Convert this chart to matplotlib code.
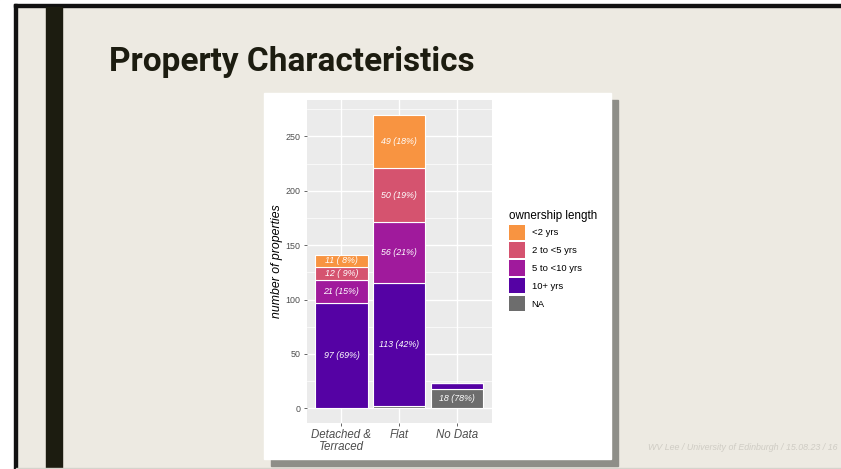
import matplotlib.pyplot as plt
import numpy as np
from matplotlib.patches import Patch, Rectangle

plt.rcParams["font.family"] = ["Liberation Sans", "DejaVu Sans"]

# data
types = ["Detached &\nTerraced", "Flat", "No Data"]
groups = ["<2 yrs", "2 to <5 yrs", "5 to <10 yrs", "10+ yrs", "NA"]
colors = ["#F89441", "#D5536F", "#A01A9C", "#5502A4", "#6D6D6D"]

# stacked bottom -> top: NA, 10+, 5-<10, 2-<5, <2
na_vals = [0, 2, 18]
yrs10_vals = [97, 113, 5]
yrs5_vals = [21, 56, 0]
yrs2_vals = [12, 50, 0]
lt2_vals = [11, 49, 0]

stack = [na_vals, yrs10_vals, yrs5_vals, yrs2_vals, lt2_vals]
stack_cols = [colors[4], colors[3], colors[2], colors[1], colors[0]]

W, H = 841, 469
fig = plt.figure(figsize=(W / 100, H / 100), dpi=100)
fig.patch.set_facecolor("#EDEAE2")

# slide decoration
fig.patches.append(Rectangle((0, 0), 15 / W, 1, transform=fig.transFigure, color="white", zorder=0))
fig.patches.append(Rectangle((0, 1 - 4 / H), 1, 4 / H, transform=fig.transFigure, color="white", zorder=0))
fig.patches.append(Rectangle((14 / W, 0), 2.5 / W, 1 - 4 / H, transform=fig.transFigure, color="#111111", zorder=1))
fig.patches.append(Rectangle((14 / W, 1 - 7 / H), 1 - 14 / W, 3 / H, transform=fig.transFigure, color="#111111", zorder=1))
fig.patches.append(Rectangle((46 / W, 0), 16 / W, 1 - 7 / H, transform=fig.transFigure, color="#1C1C10", zorder=1))
fig.patches.append(Rectangle((16 / W, 0), 1, 1.2 / H, transform=fig.transFigure, color="#D6D3CC", zorder=1))

# chart card with shadow
fig.patches.append(Rectangle((271 / W, (H - 466) / H), 347 / W, 366 / H, transform=fig.transFigure,
                             color="#8E8E88", zorder=1))
fig.patches.append(Rectangle((264 / W, (H - 459) / H), 347 / W, 366 / H, transform=fig.transFigure,
                             color="white", zorder=2))

fig.text(109 / W, 1 - 62 / H, "Property Characteristics", fontsize=24, fontweight="bold",
         family="Roboto", color="#1C1C10", va="center", ha="left")
fig.text(838 / W, 1 - 447 / H, "WV Lee / University of Edinburgh / 15.08.23 / 16", fontsize=6.4,
         style="italic", color="#CFCCC4", ha="right", va="center")

ax = fig.add_axes([306.7 / W, (H - 423) / H, 185.3 / W, 323 / H], zorder=3)
ax.set_facecolor("#EBEBEB")
for s in ax.spines.values():
    s.set_visible(False)

x = np.arange(1, len(types) + 1)
totals = np.sum(stack, axis=0)
bottom = np.zeros(len(types))
for vals, col in zip(stack, stack_cols):
    vals = np.array(vals)
    ax.bar(x, vals, 0.9, bottom=bottom, color=col, edgecolor="white", linewidth=0.8, zorder=3)
    for xi, v, b, t in zip(x, vals, bottom, totals):
        if v >= 10:
            ax.text(xi, b + v / 2, f"{v} ({100 * v / t:2.0f}%)", ha="center", va="center",
                    fontsize=6.4, style="italic", color="white", zorder=4)
    bottom += vals

ax.set_xlim(0.4, 3.6)
ax.set_ylim(-13.5, 283.5)
ax.set_yticks(np.arange(0, 251, 50))
ax.set_yticks(np.arange(25, 276, 50), minor=True)
ax.set_xticks(x)
ax.set_xticklabels(types, fontsize=8.3, style="italic", color="#4D4D4D", linespacing=1.0)
ax.tick_params(axis="y", labelsize=6.4, colors="#4D4D4D", length=2.5, width=0.6, pad=2)
ax.tick_params(axis="x", colors="#4D4D4D", length=2.5, width=0.6, pad=2)
ax.tick_params(which="minor", length=0)
ax.grid(True, which="major", color="white", linewidth=1.0, zorder=0)
ax.grid(True, which="minor", axis="y", color="white", linewidth=0.5, zorder=0)
ax.set_axisbelow(True)
ax.set_ylabel("number of properties", fontsize=8.8, style="italic", color="black", labelpad=2)

handles = [Patch(facecolor=c, edgecolor="none") for c in colors]
leg = fig.legend(handles, groups, loc="upper left", bbox_to_anchor=(509 / W, 1 - 210 / H),
                 frameon=False, fontsize=6.8, title="ownership length", title_fontsize=8.4,
                 handlelength=1.65, handleheight=2.1, labelspacing=0.28, handletextpad=0.75,
                 borderaxespad=0, borderpad=0)
leg._legend_box.align = "left"
leg.set_zorder(5)

fig.savefig("out.png", dpi=100, facecolor=fig.get_facecolor())
